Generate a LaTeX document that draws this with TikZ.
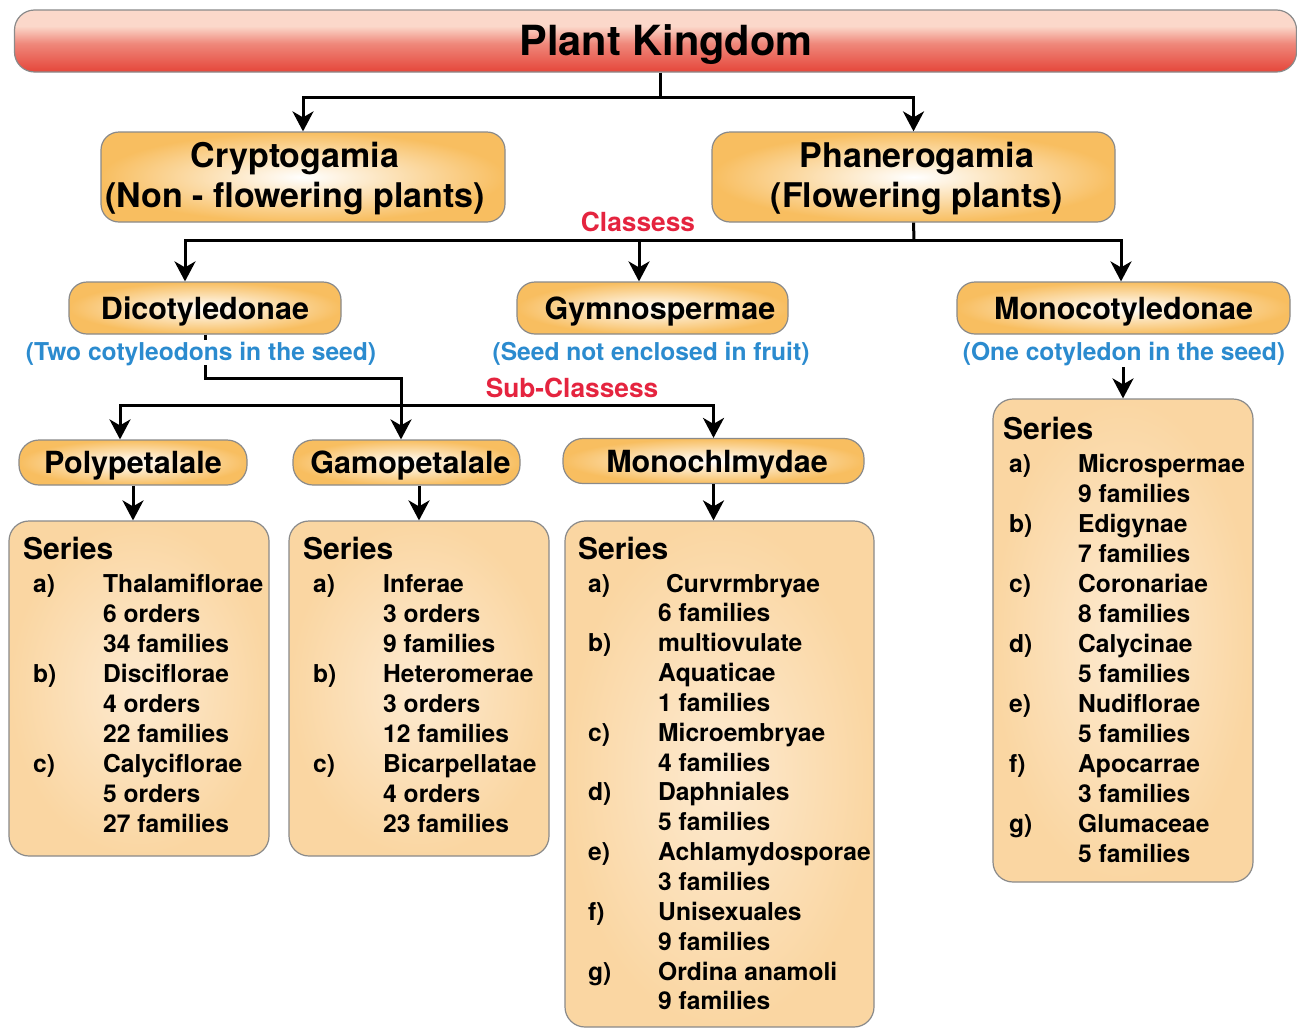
\documentclass[tikz,border=0pt]{standalone}
\usepackage{fontspec}
\setmainfont{TeX Gyre Heros}
\usetikzlibrary{arrows.meta}
\definecolor{catorange}{HTML}{F8BE60}
\definecolor{serin}{HTML}{FDEAD0}
\definecolor{serout}{HTML}{FAD6A2}
\definecolor{bordergray}{HTML}{8A8A8A}
\definecolor{noteblue}{HTML}{2B8BCF}
\definecolor{notered}{HTML}{E5243F}
\definecolor{pktop}{HTML}{FBD8CA}
\definecolor{pkbot}{HTML}{E5463A}
\pgfdeclareverticalshading{pkshade}{100bp}{color(0bp)=(pkbot); color(25bp)=(pkbot); color(48bp)=(pkbot!55!pktop); color(62bp)=(pktop); color(100bp)=(pktop)}
\tikzset{
  conn/.style={line width=3pt, draw=black},
  arr/.style={conn, -{Stealth[length=20pt,width=21pt,inset=6pt]}},
  catbox/.style={draw=bordergray, line width=1.2pt, rounded corners=18pt, shading=radial, inner color=white, outer color=catorange, inner sep=0pt},
  serbox/.style={draw=bordergray, line width=1.2pt, rounded corners=20pt, shading=radial, inner color=serin, outer color=serout, inner sep=0pt},
  cattext/.style={font=\fontsize{30.5}{36}\selectfont\bfseries, text height=22pt, text depth=0pt},
  bigtext/.style={font=\fontsize{34}{40}\selectfont\bfseries, anchor=base, inner sep=0pt},
  note/.style={font=\fontsize{24.6}{30}\selectfont\bfseries, text=noteblue, fill=white, anchor=base, inner sep=2pt, text height=17.7pt, text depth=3pt},
  rednote/.style={font=\fontsize{26.3}{30}\selectfont\bfseries, text=notered, anchor=base, inner sep=0pt},
  sertitle/.style={font=\fontsize{30}{36}\selectfont\bfseries, anchor=base west, inner sep=0pt},
  item/.style={font=\fontsize{24.6}{30}\selectfont\bfseries, anchor=base west, inner sep=0pt},
}
\begin{document}
\begin{tikzpicture}[x=1pt,y=-1pt]
\fill[white] (0,0) rectangle (1297,1028);
\useasboundingbox (0,0) rectangle (1297,1028);

% Top bar
\node[draw=bordergray, line width=1.2pt, rounded corners=20pt, shading=pkshade, minimum width=1282pt, minimum height=62pt, inner sep=0pt] (pk) at (655.5,41) {};
\node[font=\fontsize{41.5}{48}\selectfont\bfseries, anchor=base, inner sep=0pt] (pktext) at (666,55) {Plant Kingdom};

% Divisions
\node[catbox, minimum width=404pt, minimum height=90pt] (crypt) at (303,177) {};
\node[bigtext] (crypta) at (295,167) {Cryptogamia};
\node[bigtext] (cryptb) at (295,207) {(Non - flowering plants)};
\node[catbox, minimum width=403pt, minimum height=90pt] (phan) at (913.5,177) {};
\node[bigtext] (phana) at (917,167) {Phanerogamia};
\node[bigtext] (phanb) at (917,207) {(Flowering plants)};

% Classes
\node[catbox, cattext, minimum width=272pt, minimum height=52pt] (dicot) at (205,308) {Dicotyledonae};
\node[catbox, cattext, minimum width=271pt, minimum height=52pt] (gymno) at (652.5,308) {\hspace*{15pt}Gymnospermae};
\node[catbox, cattext, minimum width=333pt, minimum height=52pt] (monocot) at (1123.5,308) {Monocotyledonae};

% Sub-classes
\node[catbox, cattext, minimum width=228pt, minimum height=45pt, rounded corners=20pt] (poly) at (133,462.5) {Polypetalale};
\node[catbox, cattext, minimum width=227pt, minimum height=45pt, rounded corners=20pt] (gamo) at (406.5,462.5) {\hspace*{8pt}Gamopetalale};
\node[catbox, cattext, minimum width=301pt, minimum height=45pt, rounded corners=20pt] (monochl) at (713.5,461) {\hspace*{7pt}Monochlmydae};

% Series boxes
\node[serbox, minimum width=260pt, minimum height=335pt] (polyser) at (139,688.5) {};
\node[serbox, minimum width=260pt, minimum height=335pt] (gamoser) at (419,688.5) {};
\node[serbox, minimum width=309pt, minimum height=506pt] (monochlser) at (719.5,774) {};
\node[serbox, minimum width=260pt, minimum height=483pt] (monoser) at (1123,640.5) {};

% Connectors
\coordinate (h1) at (660,97);
\draw[conn] (pk.south -| h1) -- (h1);
\draw[arr] (h1) -| (crypt.north);
\draw[arr] (h1) -| (phan.north);

\coordinate (h2) at (914,240);
\draw[conn] (phan.south) -- (h2);
\draw[arr] (h2) -| ([xshift=-20pt]dicot.north);
\draw[arr] (h2) -| ([xshift=-13.5pt]gymno.north);
\draw[arr] (h2) -| ([xshift=-2.5pt]monocot.north);

\coordinate (h3) at (401,378);
\draw[arr] (dicot.south) |- (h3) -- ([xshift=-5.5pt]gamo.north);
\coordinate (h4) at (401,405);
\draw[arr] (h4) -| ([xshift=-13pt]poly.north);
\draw[arr] (h4) -| (monochl.north);

\draw[arr] (poly.south) -- (poly.south |- polyser.north);
\draw[arr] (gamo.south -| gamoser.north) -- (gamoser.north);
\draw[arr] (monochl.south) -- (monochl.south |- monochlser.north);

% Notes
\node[note] (dicotnote) at (201,360) {(Two cotyleodons in the seed)};
\node[note] (gymnonote) at (651,360) {(Seed not enclosed in fruit)};
\node[note] (mononote) at (1124,360) {(One cotyledon in the seed)};
\draw[arr] ([yshift=-2pt]mononote.south -| monoser.north) -- (monoser.north);

\node[rednote] (classes) at (638,231) {Classess};
\node[rednote] (subclasses) at (572,397.5) {Sub-Classess};

% Polypetalale series
\node[sertitle] (polytitle) at (23,559) {Series};
\foreach \t [count=\i] in {Thalamiflorae,6 orders,34 families,Disciflorae,4 orders,22 families,Calyciflorae,5 orders,27 families}
  \node[item] (polyt\i) at (103,{592+(\i-1)*30}) {\t};
\foreach \l/\k in {a)/1,b)/4,c)/7}
  \node[item] (polyl\k) at (33,{592+(\k-1)*30}) {\l};

% Gamopetalale series
\node[sertitle] (gamotitle) at (303,559) {Series};
\foreach \t [count=\i] in {Inferae,3 orders,9 families,Heteromerae,3 orders,12 families,Bicarpellatae,4 orders,23 families}
  \node[item] (gamot\i) at (383,{592+(\i-1)*30}) {\t};
\foreach \l/\k in {a)/1,b)/4,c)/7}
  \node[item] (gamol\k) at (313,{592+(\k-1)*30}) {\l};

% Monochlamydae series
\node[sertitle] (mctitle) at (578,559) {Series};
\node[item] (mct1) at (666,592) {Curvrmbryae};
\foreach \t [count=\i from 2] in {6 families,multiovulate,Aquaticae,1 families,Microembryae,4 families,Daphniales,5 families,Achlamydosporae,3 families,Unisexuales,9 families,Ordina anamoli,9 families}
  \node[item] (mct\i) at (658,{592+(\i-1)*29.85}) {\t};
\foreach \l/\k in {a)/1,b)/3,c)/6,d)/8,e)/10,f)/12,g)/14}
  \node[item] (mcl\k) at (588,{592+(\k-1)*29.85}) {\l};

% Monocotyledonae series
\node[sertitle] (motitle) at (1003,439) {Series};
\foreach \t [count=\i] in {Microspermae,9 families,Edigynae,7 families,Coronariae,8 families,Calycinae,5 families,Nudiflorae,5 families,Apocarrae,3 families,Glumaceae,5 families}
  \node[item] (mot\i) at (1078,{472+(\i-1)*30}) {\t};
\foreach \l/\k in {a)/1,b)/3,c)/5,d)/7,e)/9,f)/11,g)/13}
  \node[item] (mol\k) at (1009,{472+(\k-1)*30}) {\l};
\end{tikzpicture}
\end{document}
